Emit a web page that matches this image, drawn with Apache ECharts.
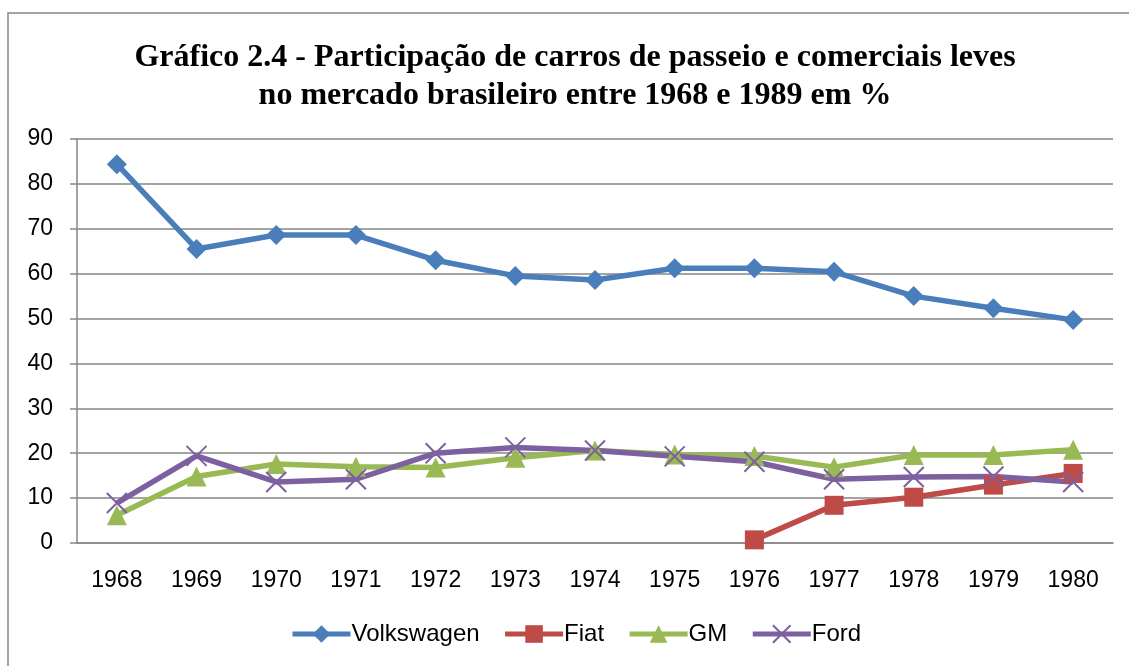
<!DOCTYPE html>
<html>
<head>
<meta charset="utf-8">
<script src="https://cdn.jsdelivr.net/npm/echarts@6/dist/echarts.min.js"></script>
<style>
  html, body { margin: 0; padding: 0; background: #fff; }
  #chart { width: 1129px; height: 666px; }
</style>
</head>
<body>
<div id="chart"></div>
<script>
var years = ['1968', '1969', '1970', '1971', '1972', '1973', '1974', '1975', '1976', '1977', '1978', '1979', '1980'];
var volkswagen = [84.4, 65.5, 68.6, 68.6, 63.0, 59.5, 58.6, 61.2, 61.2, 60.4, 55.0, 52.3, 49.7];
var fiat = [null, null, null, null, null, null, null, null, 0.7, 8.4, 10.2, 12.9, 15.5];
var gm = [6.2, 14.8, 17.6, 17.0, 16.8, 19.0, 20.6, 19.7, 19.4, 16.9, 19.6, 19.6, 20.8];
var ford = [8.9, 19.4, 13.6, 14.2, 20.0, 21.3, 20.6, 19.3, 18.1, 14.2, 14.7, 14.8, 13.6];
var yTicks = [0, 10, 20, 30, 40, 50, 60, 70, 80, 90];

var chart = echarts.init(document.getElementById('chart'));

var labelFont = 'Liberation Sans';
var crossPath = 'path://M0,0 L10,10 M10,0 L0,10';

function makeSeries(name, data, color, symbol, size, extra) {
    var s = {
        name: name,
        type: 'line',
        data: data,
        symbol: symbol,
        symbolSize: size,
        showAllSymbol: true,
        connectNulls: false,
        lineStyle: { color: color, width: 5.5 },
        itemStyle: { color: color },
        emphasis: { disabled: true },
        animation: false
    };
    if (extra) {
        for (var k in extra) s[k] = extra[k];
    }
    return s;
}

var option = {
    backgroundColor: '#fff',
    animation: false,
    title: {
        text: 'Gráfico 2.4 - Participação de carros de passeio e comerciais leves\nno mercado brasileiro entre 1968 e 1989 em %',
        left: 570,
        textAlign: 'center',
        top: 34,
        textStyle: {
            fontFamily: 'Liberation Serif',
            fontWeight: 'bold',
            fontSize: 32,
            lineHeight: 38,
            color: '#000'
        }
    },
    graphic: [{
        type: 'rect',
        shape: { x: 8, y: 13, width: 1200, height: 700 },
        style: { fill: 'none', stroke: '#868686', lineWidth: 1.5 },
        silent: true
    }],
    legend: {
        bottom: 15,
        left: 285,
        itemWidth: 58,
        itemHeight: 22,
        itemGap: 23,
        lineStyle: { width: 5 },
        textStyle: { fontFamily: labelFont, fontSize: 24, color: '#000', padding: [0, 0, 0, -4] },
        data: ['Volkswagen', 'Fiat', 'GM', 'Ford']
    },
    grid: { left: 77, right: 16, top: 139, bottom: 123 },
    xAxis: {
        type: 'category',
        data: years,
        boundaryGap: true,
        axisLine: { lineStyle: { color: '#868686', width: 1.5 } },
        axisTick: { length: 7, lineStyle: { color: '#868686', width: 1.5 } },
        axisLabel: { fontFamily: labelFont, fontSize: 23, color: '#000', margin: 26 }
    },
    yAxis: {
        type: 'value',
        min: yTicks[0],
        max: yTicks[yTicks.length - 1],
        interval: 10,
        axisLine: { show: true, lineStyle: { color: '#868686', width: 1.5 } },
        axisTick: { show: true, length: 7, lineStyle: { color: '#868686', width: 1.5 } },
        splitLine: { lineStyle: { color: '#868686', width: 1.5 } },
        axisLabel: { fontFamily: labelFont, fontSize: 23, color: '#000', margin: 24 }
    },
    series: [
        makeSeries('Volkswagen', volkswagen, '#4A7EBB', 'diamond', 20),
        makeSeries('Fiat', fiat, '#BE4B48', 'rect', 19),
        makeSeries('GM', gm, '#98B954', 'triangle', 20),
        makeSeries('Ford', ford, '#7D60A0', crossPath, 20, {
            itemStyle: { color: '#7D60A0', borderColor: '#7D60A0', borderWidth: 2 }
        })
    ]
};

chart.setOption(option);
</script>
</body>
</html>
